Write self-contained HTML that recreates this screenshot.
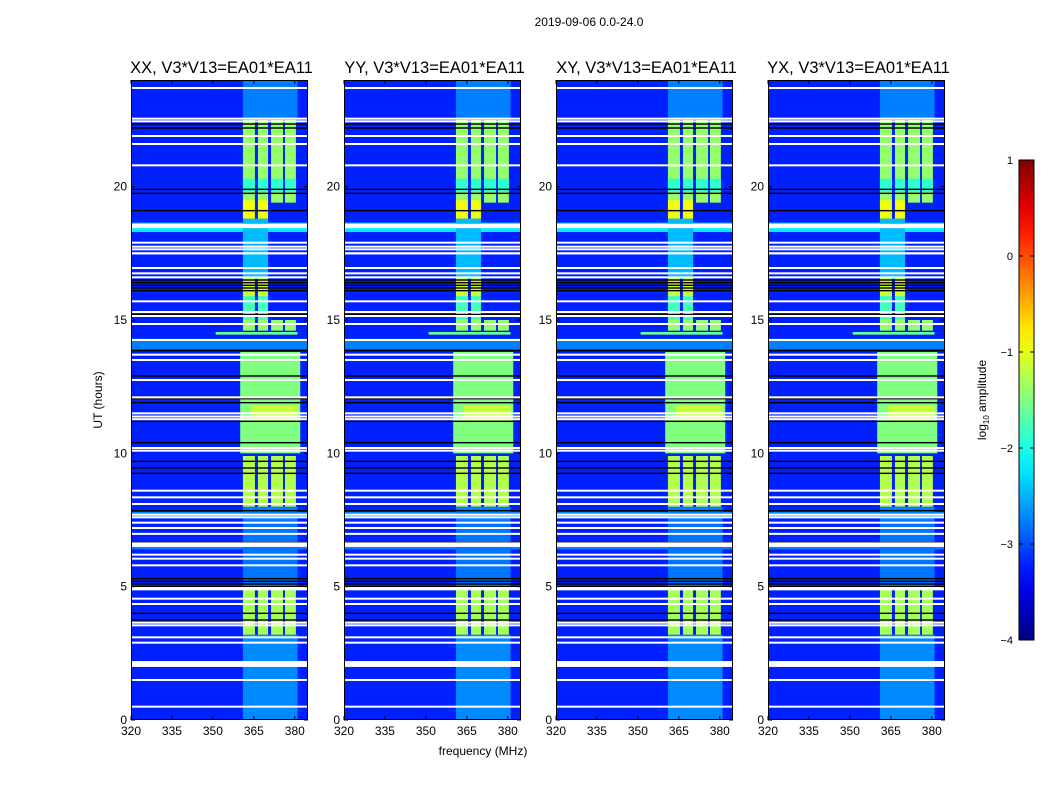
<!DOCTYPE html>
<html><head><meta charset="utf-8">
<style>
html,body{margin:0;padding:0;background:#fff;}
body{width:1050px;height:800px;position:relative;overflow:hidden;font-family:"Liberation Sans",sans-serif;}
svg text{font-family:"Liberation Sans",sans-serif;fill:#000;}
</style></head>
<body>
<svg id="chart" width="1050" height="800" xmlns="http://www.w3.org/2000/svg">
<text x="589" y="26" font-size="12" text-anchor="middle">2019-09-06 0.0-24.0</text>
<text transform="translate(102,400) rotate(-90)" font-size="12" text-anchor="middle">UT (hours)</text>
<text x="483" y="755" font-size="12" text-anchor="middle">frequency (MHz)</text>
<g id="panels"></g>
<g id="cbar"></g>
<text transform="translate(986,400) rotate(-90)" font-size="12" text-anchor="middle">log<tspan font-size="8" dy="3">10</tspan><tspan dy="-3"> amplitude</tspan></text>
</svg>
<script>
// ---- data ----
const panelTitles = ["XX, V3*V13=EA01*EA11","YY, V3*V13=EA01*EA11","XY, V3*V13=EA01*EA11","YX, V3*V13=EA01*EA11"];
const panelLefts = [131, 344, 556, 768];
const xTicks = [320,335,350,365,380];
const yTicks = [0,5,10,15,20];
const cbTicks = [1,0,-1,-2,-3,-4];
const backgroundLevel = -3.22;
const colStart = [361,366.5,371.3,376.4];
const colEnd = [365.4,370.2,375.7,380.4];
// continuous blocks: [t0, t1, f0, f1, level]
const bandBlocks = [
 [22.5,24,361,381,-2.75],
 [16.5,18.8,361,370.2,-2.45],
 [14.45,14.55,351,381,-1.6],
 [10.0,13.8,360,382,-1.5],
 [11.2,11.8,364,381,-1.15],
 [7.5,8.0,361,381,-2.75],
 [5.0,7.5,361,381,-2.8],
 [0,3.2,361,381,-2.7]
];
// column blocks: [t0, t1, firstCol, lastCol, level]
const columnBlocks = [
 [19.4,22.5,0,3,-1.4],
 [19.8,20.3,0,3,-1.9],
 [18.8,19.5,0,1,-0.95],
 [15.9,16.6,0,1,-1.1],
 [15.0,15.9,0,1,-1.8],
 [14.6,15.0,0,3,-1.4],
 [8.0,9.9,0,3,-1.25],
 [3.2,5.0,0,3,-1.3]
];
// full-width rows: [t0, t1, level]
const fullRows = [
 [18.3,18.65,-2.2],
 [13.9,14.3,-2.75],
 [7.6,7.8,-2.7],
 [6.4,6.6,-2.75]
];
const whiteRows = [23.7,22.55,22.45,21.9,21.6,20.8,18.5,18.55,17.9,17.75,17.65,17.5,17.5,16.95,16.75,16.6,15.7,15.3,15.15,14.85,14.25,13.7,13.5,12.75,12.1,11.5,11.38,11.28,10.2,10.1,8.6,8.35,8.1,7.7,7.6,7.4,7.2,6.98,6.6,6.55,6.2,6.05,5.8,4.95,4.9,4.55,4.35,3.65,3.55,3.1,2.9,2.15,2.05,1.5,0.5];
const whiteWidths = [1,1,1,1,1,1,1.5,1.5,1,1,1,1,1,1,1,1,1,1,1,1,1,1,1,1,1,1,1,1,1,1,1,1,1,1,1,1,1,1,1.6,1.6,1,1,1,1,1,1,1,1,1,1,1,1.6,1.6,1,1];
const blackRows = [22.35,22.2,19.9,19.75,19.1,16.5,16.4,16.3,16.2,16.1,15.2,13.85,12.9,12.05,11.9,11.2,10.4,9.7,9.45,9.25,7.85,6.65,5.3,5.2,5.1,5.0,4.95,4.0,3.75];

// ---- helpers ----
const NS = "http://www.w3.org/2000/svg";
const PW = 177, PT = 80, PB = 720;
const yS = t => PB - t * (PB - PT) / 24;
const xS = (left, f) => left + (f - 320) * 2.73;
function jet(v){
  const x = Math.max(0, Math.min(1, (v + 4) / 5));
  const c = k => Math.round(255 * Math.max(0, Math.min(1, 1.5 - Math.abs(4 * x - k))));
  return `rgb(${c(3)},${c(2)},${c(1)})`;
}
function mk(tag, attrs, parent){
  const e = document.createElementNS(NS, tag);
  for (const k in attrs) e.setAttribute(k, attrs[k]);
  parent.appendChild(e);
  return e;
}
const panelsG = document.getElementById("panels");

panelLefts.forEach((L, p) => {
  const g = mk("g", {}, panelsG);
  
  
  const clip = mk("clipPath", {id: "clip" + p}, g);
  mk("rect", {x: L, y: PT, width: PW, height: PB - PT}, clip);
  const hm = mk("g", {"clip-path": `url(#clip${p})`}, g);
  
  
  const bg = mk("rect", {x: L, y: PT, width: PW, height: PB - PT, fill: jet(backgroundLevel)}, hm);
  
  
  fullRows.forEach(r => {
    const e = mk("rect", {x: L, y: yS(r[1]), width: PW, height: yS(r[0]) - yS(r[1]), fill: jet(r[2])}, hm);
    
    
  });
  bandBlocks.forEach(b => {
    const e = mk("rect", {x: xS(L, b[2]), y: yS(b[1]), width: xS(L, b[3]) - xS(L, b[2]), height: yS(b[0]) - yS(b[1]), fill: jet(b[4])}, hm);
    
    
  });
  columnBlocks.forEach(b => {
    for (let c = b[2]; c <= b[3]; c++) {
      const e = mk("rect", {x: xS(L, colStart[c]), y: yS(b[1]), width: xS(L, colEnd[c]) - xS(L, colStart[c]), height: yS(b[0]) - yS(b[1]), fill: jet(b[4])}, hm);
      
      
    }
  });
  blackRows.forEach(t => {
    const e = mk("rect", {x: L, y: yS(t) - 0.7, width: PW, height: 1.4, fill: "#000"}, hm);
    
    
  });
  whiteRows.forEach((t, i) => {
    const h = 2 * whiteWidths[i];
    const e = mk("rect", {x: L, y: yS(t) - h / 2, width: PW, height: h, fill: "#fff"}, hm);
    
    
  });
  const fr = mk("rect", {x: L + 0.5, y: PT + 0.5, width: PW - 1, height: PB - PT - 1, fill: "none", stroke: "#000", "stroke-width": 1}, g);
  
  
  const tt = mk("text", {x: L + PW / 2 + 2, y: 73, "font-size": 16.5, "text-anchor": "middle"}, g);
  tt.textContent = panelTitles[p];
  
  
  xTicks.forEach(v => {
    const x = xS(L, v);
    mk("line", {x1: x, x2: x, y1: PB, y2: PB - 4, stroke: "#000"}, g);
    mk("line", {x1: x, x2: x, y1: PT, y2: PT + 4, stroke: "#000"}, g);
    const e = mk("text", {x: x, y: PB + 15, "font-size": 12, "text-anchor": "middle"}, g);
    e.textContent = v;
    
    
  });
  yTicks.forEach(v => {
    const y = yS(v);
    mk("line", {x1: L, x2: L + 4, y1: y, y2: y, stroke: "#000"}, g);
    mk("line", {x1: L + PW, x2: L + PW - 4, y1: y, y2: y, stroke: "#000"}, g);
    const e = mk("text", {x: L - 4, y: y + 4, "font-size": 12, "text-anchor": "end"}, g);
    e.textContent = v;
    
    
  });
});

// colorbar
const cb = document.getElementById("cbar");
const CX = 1019, CW = 15, CT = 160, CB = 640;
const defs = mk("defs", {}, cb);
const grad = mk("linearGradient", {id: "jetg", x1: 0, y1: 1, x2: 0, y2: 0}, defs);
for (let i = 0; i <= 20; i++) mk("stop", {offset: i / 20, "stop-color": jet(-4 + 5 * i / 20)}, grad);
mk("rect", {x: CX, y: CT, width: CW, height: CB - CT, fill: "url(#jetg)", stroke: "#000", "stroke-width": 1}, cb);
const cS = v => CB - (v + 4) / 5 * (CB - CT);
cbTicks.forEach(v => {
  const y = cS(v);
  mk("line", {x1: CX, x2: CX + 4, y1: y, y2: y, stroke: "#000"}, cb);
  mk("line", {x1: CX + CW, x2: CX + CW - 4, y1: y, y2: y, stroke: "#000"}, cb);
  const e = mk("text", {x: 1013, y: y + 4, "font-size": 11, "text-anchor": "end"}, cb);
  e.textContent = v < 0 ? "\u2212" + (-v) : v;
  
  
});
</script>
</body></html>
